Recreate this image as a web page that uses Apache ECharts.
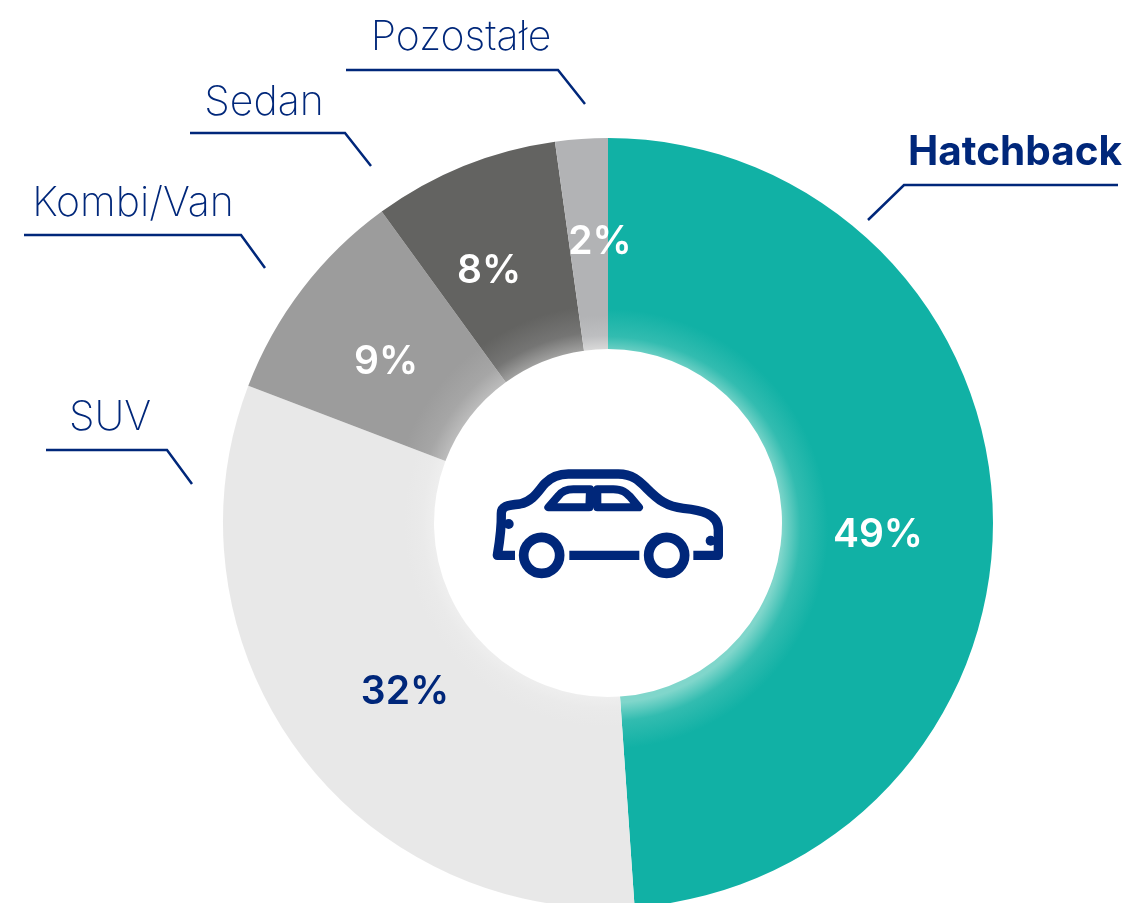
<!DOCTYPE html>
<html>
<head>
<meta charset="utf-8">
<style>
html,body{margin:0;padding:0;background:#fff;overflow:hidden}
#main{width:1131px;height:903px}
</style>
<script src="https://cdn.jsdelivr.net/npm/echarts@6/dist/echarts.min.js"></script>
</head>
<body>
<div id="main"></div>
<script>
var categories = ['Hatchback', 'SUV', 'Kombi/Van', 'Sedan', 'Pozostałe'];
// udzialy (katy wycinkow), etykiety pokazuja wartosc zaokraglona
var shares = [48.9, 31.9, 9.2, 7.8, 2.2];
var sliceColors = ['#11b1a5', '#e8e8e8', '#9c9c9c', '#636361', '#b2b3b5'];
var glowColors = ['#80d6cb', '#eeeeee', '#bcbcbc', '#a0a09f', '#d8d8d8'];
var glowWidth = [46, 30, 44, 44, 34];

var navy = '#00277a';
var cx = 608, cy = 523, rIn = 174, rOut = 385;

// pozycje etykiet
var percentPos = [[878, 535], [405, 692], [386, 362], [489, 271], [600, 242]];
var percentColors = ['#fff', navy, '#fff', '#fff', '#fff'];
var namePos = [[1015, 153], [110, 418], [133, 204], [264, 103], [461, 38]];
var leaders = [
    [[1118, 185], [904, 185], [868, 220]],
    [[46, 450], [167, 450], [192, 484]],
    [[24, 235], [241, 235], [265, 268]],
    [[190, 133], [345, 133], [371, 166]],
    [[346, 70], [558, 70], [585, 104]]
];

var carBody = 'M135 316 L82 316 C88 280 95 240 94 190 C94 170 110 165 150 162 C190 155 210 115 225 100 ' +
    'C245 80 265 72 295 72 L445 72 C490 72 510 95 530 115 C565 150 590 170 640 175 C690 180 745 190 745 240 ' +
    'L745 316 L670 316 M298 316 L508 316';
var carWindows = 'M360 118 L310 118 C290 118 275 125 265 138 L235 172 L358 172 Z ' +
    'M382 118 L430 118 C460 118 470 130 480 140 L507 172 L382 172 Z';

echarts.graphic.registerShape('carBody', echarts.graphic.extendPath(carBody, {}));
echarts.graphic.registerShape('carWindows', echarts.graphic.extendPath(carWindows, {}));

var myChart = echarts.init(document.getElementById('main'));

// biala poswiata przy wewnetrznej krawedzi pierscienia
function sliceFill(i) {
    var w = glowWidth[i];
    return {
        type: 'radial', x: cx, y: i === 0 ? cy + 6 : cy, r: rOut, global: true,
        colorStops: [
            {offset: 0, color: glowColors[i]},
            {offset: rIn / rOut, color: glowColors[i]},
            {offset: (rIn + w * 0.4) / rOut, color: echarts.color.lerp(0.7, [glowColors[i], sliceColors[i]])},
            {offset: (rIn + w) / rOut, color: sliceColors[i]},
            {offset: 1, color: sliceColors[i]}
        ]
    };
}

var ringData = categories.map(function (name, i) {
    return {
        value: shares[i],
        name: name,
        itemStyle: {color: sliceFill(i)},
        label: {color: percentColors[i]}
    };
});
var nameData = categories.map(function (name, i) {
    return {
        value: shares[i],
        name: name,
        label: i === 0 ? {fontWeight: 700, fontSize: 40.5} : {fontWeight: 250}
    };
});

var graphicItems = leaders.map(function (pts) {
    return {
        type: 'polyline', silent: true,
        shape: {points: pts},
        style: {stroke: navy, lineWidth: 2.5, fill: null}
    };
});
graphicItems.push({
    type: 'group', x: 470, y: 450, scaleX: 1 / 3, scaleY: 1 / 3, silent: true,
    children: [
        {type: 'carBody', style: {stroke: navy, lineWidth: 28, fill: null, lineJoin: 'round', lineCap: 'butt'}},
        {type: 'carWindows', style: {stroke: navy, lineWidth: 24, fill: null, lineJoin: 'round'}},
        {type: 'circle', shape: {cx: 215, cy: 316, r: 54}, style: {stroke: navy, lineWidth: 29, fill: null}},
        {type: 'circle', shape: {cx: 590, cy: 316, r: 54}, style: {stroke: navy, lineWidth: 29, fill: null}},
        {type: 'circle', shape: {cx: 116, cy: 222, r: 15}, style: {fill: navy}},
        {type: 'circle', shape: {cx: 722, cy: 272, r: 15}, style: {fill: navy}}
    ]
});

var option = {
    animation: false,
    backgroundColor: '#fff',
    graphic: graphicItems,
    series: [
        {
            type: 'pie',
            silent: true,
            center: [cx, cy],
            radius: [rIn, rOut],
            startAngle: 90,
            avoidLabelOverlap: false,
            data: ringData,
            label: {
                position: 'inside',
                fontFamily: 'Inter',
                fontSize: 39,
                fontWeight: 600,
                formatter: function (p) { return Math.round(p.value) + '%'; }
            },
            labelLine: {show: false},
            labelLayout: function (p) {
                return {x: percentPos[p.dataIndex][0], y: percentPos[p.dataIndex][1], align: 'center', verticalAlign: 'middle'};
            }
        },
        {
            type: 'pie',
            silent: true,
            center: [cx, cy],
            radius: [rIn, rOut],
            startAngle: 90,
            avoidLabelOverlap: false,
            itemStyle: {color: 'rgba(0,0,0,0)'},
            data: nameData,
            label: {
                position: 'outside',
                fontFamily: 'Inter',
                fontSize: 41,
                color: navy,
                formatter: '{b}'
            },
            labelLine: {show: false},
            labelLayout: function (p) {
                return {x: namePos[p.dataIndex][0], y: namePos[p.dataIndex][1], align: 'center', verticalAlign: 'middle'};
            }
        }
    ]
};

myChart.setOption(option);
</script>
</body>
</html>
